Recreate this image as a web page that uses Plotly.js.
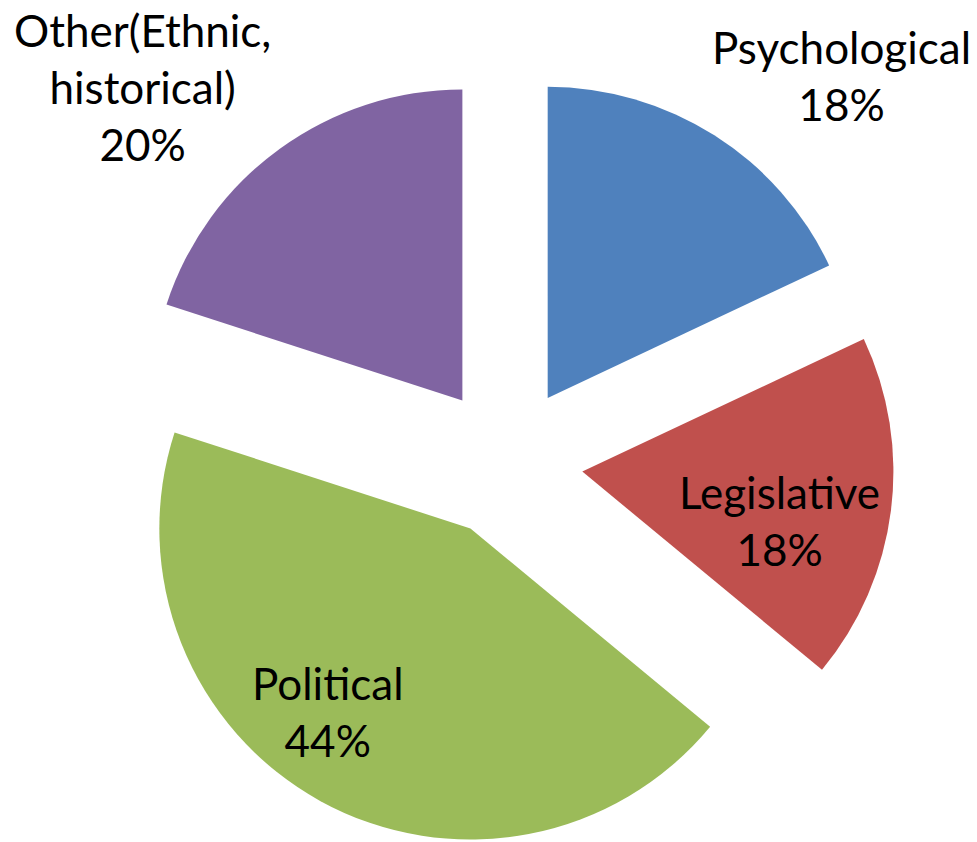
<!DOCTYPE html>
<html>
<head>
<meta charset="utf-8">
<script src="https://cdn.plot.ly/plotly-3.0.1.min.js"></script>
<style>
html, body { margin: 0; padding: 0; overflow: hidden; background: #fff; }
#chart { width: 977px; height: 924px; }
</style>
</head>
<body>
<div id="chart"></div>
<script>
// Data
const categories = ["Psychological", "Legislative", "Political", "Other(Ethnic,<br>historical)"];
const shares = [18, 18, 44, 20];
const colors = ["#4F81BD", "#C0504D", "#9BBB59", "#8064A2"];
const pctLabels = ["18%", "18%", "44%", "20%"];

const W = 977, H = 924;
const labelPos = [
  {px: 841, py: 76},
  {px: 779, py: 520},
  {px: 328, py: 711},
  {px: 142, py: 87}
];

const trace = {
  type: "pie",
  values: shares,
  labels: categories,
  sort: false,
  direction: "clockwise",
  rotation: 0,
  pull: 0.244,
  textinfo: "none",
  hoverinfo: "label+percent",
  marker: { colors: colors, line: { width: 0 } },
  domain: { x: [120 / W, 894 / W], y: [75 / H, 849 / H] },
  showlegend: false
};

const annotations = categories.map((c, i) => ({
  xref: "paper", yref: "paper",
  x: labelPos[i].px / W, y: 1 - labelPos[i].py / H,
  xanchor: "center", yanchor: "middle",
  text: c + "<br>" + pctLabels[i],
  showarrow: false,
  align: "center",
  font: { family: "Lato, 'Open Sans', sans-serif", size: 44, color: "#000" }
}));

const layout = {
  width: W, height: H,
  margin: { l: 0, r: 0, t: 0, b: 0 },
  paper_bgcolor: "#fff",
  showlegend: false,
  annotations: annotations
};

Plotly.newPlot("chart", [trace], layout, { displayModeBar: false, staticPlot: true });
</script>
</body>
</html>
